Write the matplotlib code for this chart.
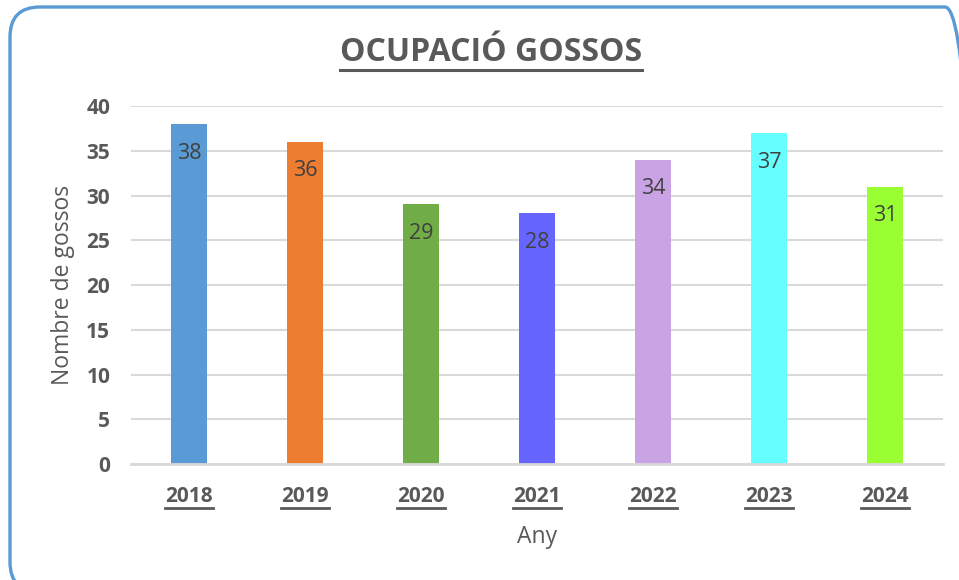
import matplotlib
matplotlib.use("Agg")
import matplotlib.pyplot as plt
from matplotlib.patches import FancyBboxPatch
from matplotlib.transforms import IdentityTransform
from matplotlib.lines import Line2D

years = ["2018", "2019", "2020", "2021", "2022", "2023", "2024"]
dogs = [38, 36, 29, 28, 34, 37, 31]
colors = ["#5b9bd5", "#ed7d31", "#70ad47", "#6666ff", "#c9a3e3", "#66ffff", "#99ff33"]
title = "OCUPACIÓ GOSSOS"
ylabel = "Nombre de gossos"
xlabel = "Any"

plt.rcParams['font.family'] = ['Open Sans', 'DejaVu Sans']
gray = "#595959"

fig = plt.figure(figsize=(9.59, 5.80), dpi=100)
ax = fig.add_axes([0.1366, 0.2, 0.8467, 0.6172])

x = range(len(years))
ax.bar(x, dogs, width=0.31, color=colors, zorder=3)
for i, v in enumerate(dogs):
    ax.annotate(str(v), (i, v), xytext=(0, -21), textcoords="offset points",
                ha="center", va="center", fontsize=15.5, color="#404040", zorder=4)

ax.set_xlim(-0.5, len(years) - 0.5)
ax.set_ylim(0, 40)
ax.set_yticks(range(0, 41, 5))
ax.set_xticks(list(x))
ax.set_xticklabels(years)
ax.tick_params(axis="both", length=0, colors=gray)
ax.tick_params(axis="y", pad=15, labelsize=15)
ax.tick_params(axis="x", pad=16, labelsize=15)
for lab in ax.get_xticklabels() + ax.get_yticklabels():
    lab.set_fontweight("bold")
    lab.set_color(gray)
ax.grid(axis="y", color="#d9d9d9", linewidth=1.5, zorder=0)
for s in ["top", "right", "left"]:
    ax.spines[s].set_visible(False)
ax.spines["bottom"].set_color("#d9d9d9")
ax.spines["bottom"].set_linewidth(2)
ax.spines["bottom"].set_zorder(4)

ax.set_ylabel(ylabel, fontsize=16.5, color=gray, labelpad=8)
ax.set_xlabel(xlabel, fontsize=16.5, color=gray, labelpad=13)

t = fig.text(0.512, 0.91, title, ha="center", va="center", fontsize=23,
             fontweight="bold", color=gray)

# rounded border
border = FancyBboxPatch((10, -12), 965, 585, boxstyle="round,pad=0,rounding_size=30",
                        transform=IdentityTransform(), fill=False,
                        edgecolor="#5b9bd5", linewidth=2.4, figure=fig)
fig.patches.append(border)

fig.canvas.draw()
renderer = fig.canvas.get_renderer()

def underline(txt, off=3, lw=2.0):
    bb = txt.get_window_extent(renderer)
    y = bb.y0 - off
    fig.add_artist(Line2D([bb.x0, bb.x1], [y, y], transform=IdentityTransform(),
                          color=gray, linewidth=lw))

underline(t, off=1, lw=2.2)
for lab in ax.get_xticklabels():
    underline(lab, off=1, lw=2.0)

fig.savefig("out.png", dpi=100)
